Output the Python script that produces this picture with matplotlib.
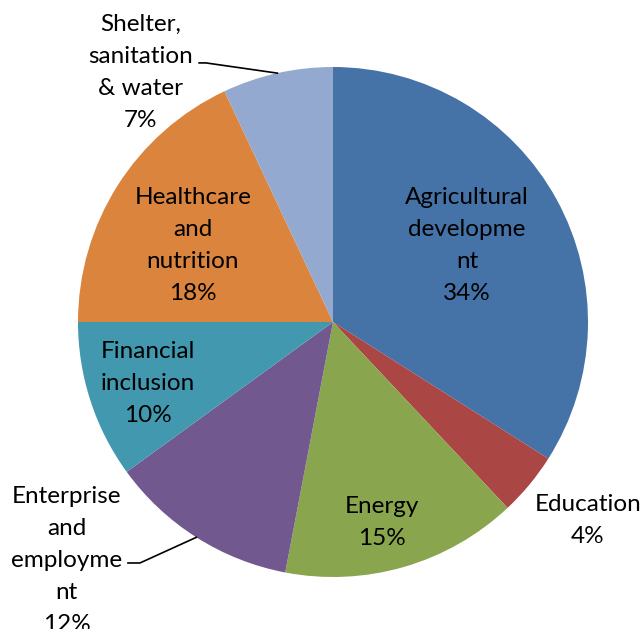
import numpy as np
import matplotlib.pyplot as plt

plt.rcParams['font.family'] = ['Lato', 'DejaVu Sans']

names = ['Agricultural\ndevelopme\nnt', 'Education', 'Energy', 'Enterprise\nand\nemployme\nnt',
         'Financial\ninclusion', 'Healthcare\nand\nnutrition', 'Shelter,\nsanitation\n& water']
shares = [34, 4, 15, 12, 10, 18, 7]
colors = ['#4572A7', '#AA4643', '#89A54E', '#71588F', '#4198AF', '#DB843D', '#93A9CF']

# label centres in pie units (radius = 1), plus leader-line elbows for outside labels
label_xy = [(0.525, 0.30), (1.0, -0.78), (0.19, -0.785), (-1.045, -0.935),
            (-0.725, -0.24), (-0.55, 0.30), (-0.755, 0.98)]
elbows = {3: (-0.757, -0.945, 0.047), 6: (-0.498, 1.016, 0.027)}

W, H, cx, cy, R = 644, 629, 333, 322, 255

fig = plt.figure(figsize=(W / 100, H / 100), dpi=100)
ax = fig.add_axes([0, 0, 1, 1])

wedges, _ = ax.pie(shares, colors=colors, startangle=90, counterclock=False,
                   radius=1, center=(0, 0), frame=True)
ax.set_xlim(-cx / R, (W - cx) / R)
ax.set_ylim(-(H - cy) / R, cy / R)
ax.set_aspect('equal')
ax.axis('off')

for i, (name, val) in enumerate(zip(names, shares)):
    x, y = label_xy[i]
    ax.text(x, y, f'{name}\n{val}%', ha='center', va='center', fontsize=17.5,
            color='black', linespacing=1.65)
    if i in elbows:
        w = wedges[i]
        mid = np.deg2rad((w.theta1 + w.theta2) / 2)
        ex, ey, tail = elbows[i]
        ax.plot([ex - tail, ex, np.cos(mid)], [ey, ey, np.sin(mid)], color='black', lw=1.2)

fig.savefig('out.png', dpi=100)
